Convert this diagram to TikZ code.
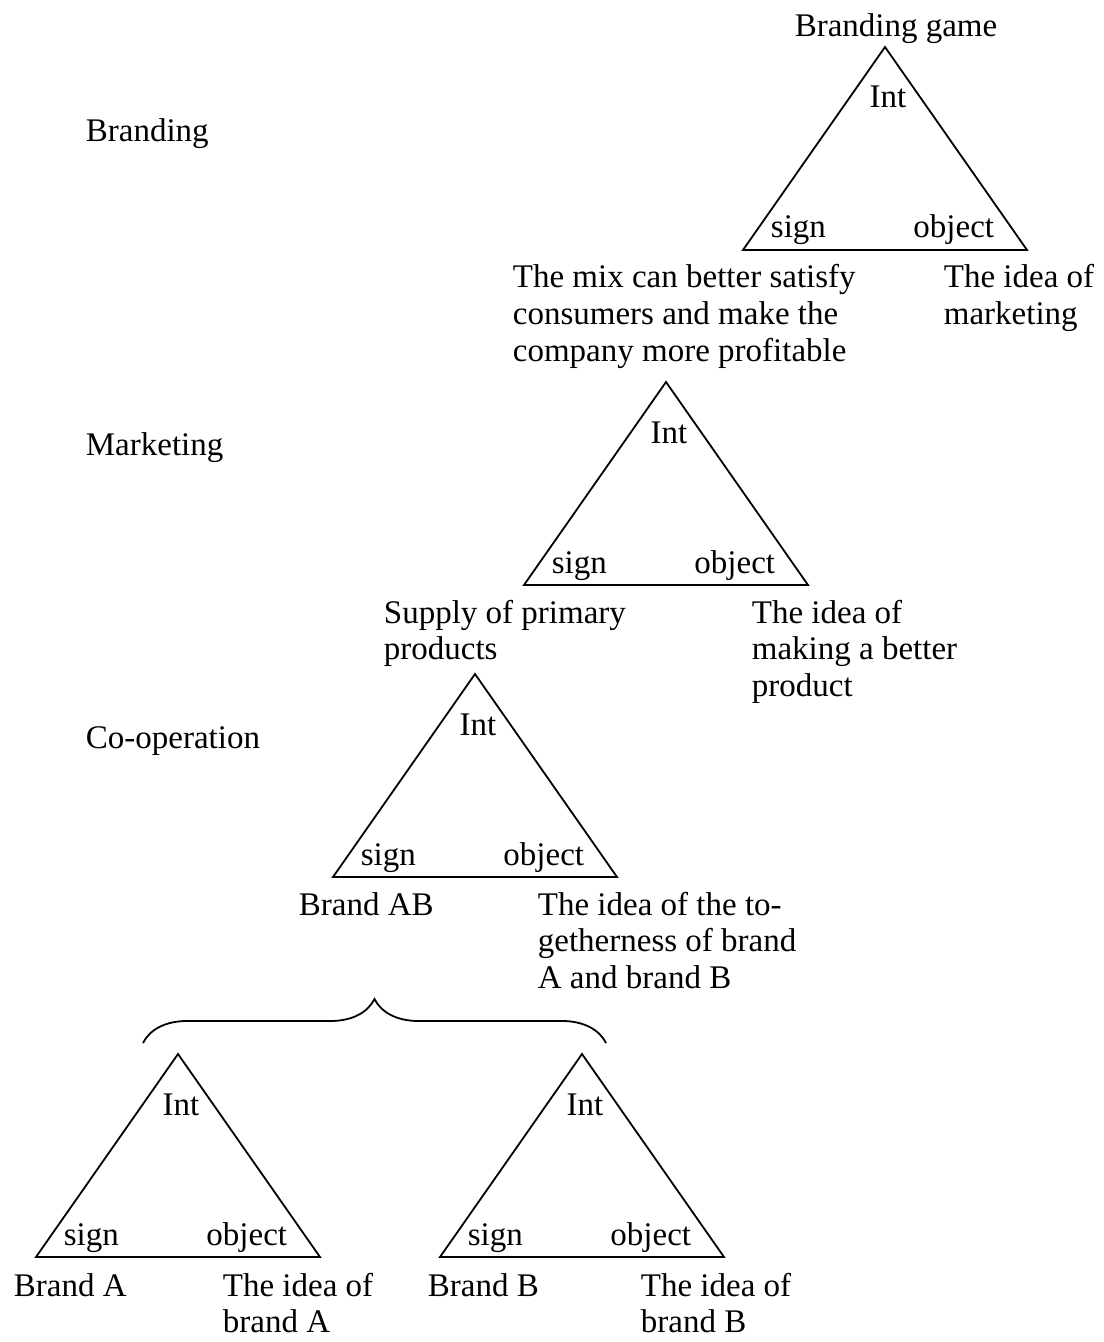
\documentclass[tikz,border=0pt]{standalone}
\usepackage{fontspec}
\setmainfont{Liberation Serif}
\usetikzlibrary{decorations.pathreplacing}

\begin{document}
\begin{tikzpicture}[x=0.5pt, y=-0.5pt, font=\fontsize{16.5}{18.25}\selectfont,
		line width=0.9pt,
		txt/.style={inner sep=0pt, align=left, anchor=base west},
		semtri/.pic={
			\draw (0,0) coordinate (-int) -- (-142,203) coordinate (-sign) -- (142,203) coordinate (-obj) -- cycle;
			\node[inner sep=0pt, anchor=base] (-intlbl) at (3,61) {Int};
			\node[inner sep=0pt, anchor=base west] (-signlbl) at (-115,191) {sign};
			\node[inner sep=0pt, anchor=base east] (-objlbl) at (110,191) {object};
		}]
		\useasboundingbox (0,0) rectangle (1103,1342);
		
		% Levels
		\node[txt] (branding) at (85,142) {Branding};
		\node[txt] (marketing) at (85,455) {Marketing};
		\node[txt] (coop) at (85,748) {Co-operation};
		
		% --- Branding game ---
		% (base anchor of a wrapped text sits on its last line)
		\node[inner sep=0pt, anchor=base] (game) at (896,37) {Branding game};
		\pic (gameT) at (885,47) {semtri};
		\node[txt] (mix) at (512,361) {The mix can better satisfy\\consumers and make the\\company more profitable};
		\node[txt] (ideaMkt) at (943,324.5) {The idea of\\marketing};
		
		% --- Marketing ---
		\pic (mktT) at (666,382) {semtri};
		\node[txt] (supply) at (383,659.5) {Supply of primary\\products};
		\node[txt] (ideaProd) at (751,696) {The idea of\\making a better\\product};
		
		% --- Co-operation ---
		\pic (coopT) at (475,674) {semtri};
		\node[txt] (brandAB) at (298,915) {Brand AB};
		\node[txt] (ideaTog) at (537,988) {The idea of the to-\\getherness of brand\\A and brand B};
		
		% Brace joining the two brands
		\coordinate (braceL) at (143,1043);
		\coordinate (braceR) at (606,1043);
		\draw[decorate, decoration={brace, amplitude=22pt}] (braceL) -- (braceR);
		
		% --- Brand A and brand B ---
		\pic (brandAT) at (178,1054) {semtri};
		\node[txt] (brandA) at (13,1296) {Brand A};
		\node[txt] (ideaA) at (222,1332.5) {The idea of\\brand A};
		
		\pic (brandBT) at (582,1054) {semtri};
		\node[txt] (brandB) at (427,1296) {Brand B};
		\node[txt] (ideaB) at (640,1332.5) {The idea of\\brand B};
		
	\end{tikzpicture}
\end{document}
